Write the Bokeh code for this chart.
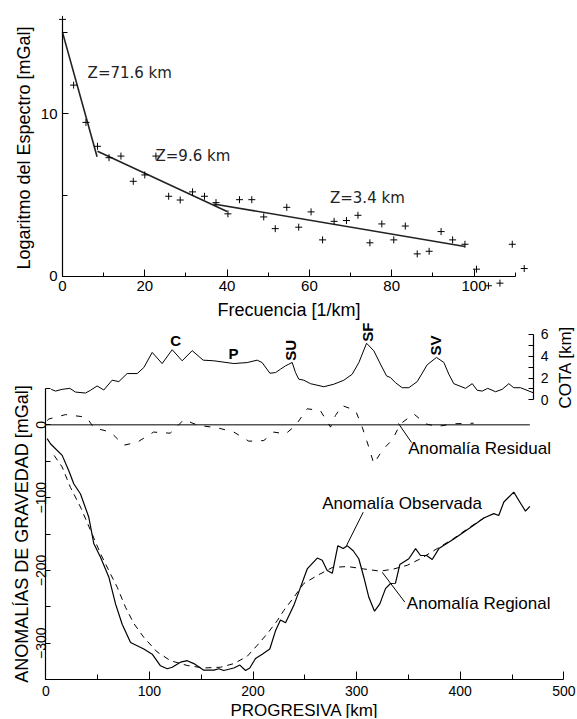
import math
from bokeh.plotting import figure
from bokeh.models import LinearAxis, Range1d, FixedTicker
from bokeh.layouts import column
from bokeh.core.properties import value
from bokeh.embed import file_html
from bokeh.resources import INLINE

# ---------------- Top chart data (spectrum) ----------------
freq = [0, 2.7, 5.7, 8.5, 11.3, 14.2, 17.2, 20.0, 22.7, 25.8, 28.6, 31.6, 34.5, 37.3,
        40.2, 43.0, 46.0, 48.9, 51.7, 54.5, 57.4, 60.4, 63.2, 66.0, 69.0, 71.8, 74.7,
        77.6, 80.5, 83.3, 86.2, 89.1, 92.0, 94.8, 97.8, 100.6, 103.5, 106.3, 109.3, 112.2]
log_spec = [15.8, 11.76, 9.47, 8.0, 7.3, 7.4, 5.85, 6.24, 7.4, 4.93, 4.7, 5.2, 4.93, 4.54,
            3.85, 4.72, 4.72, 3.66, 2.94, 4.25, 3.03, 3.97, 2.25, 3.39, 3.44, 3.76, 2.07,
            3.23, 2.25, 3.1, 1.39, 1.55, 2.76, 2.25, 1.98, 0.45, -0.57, -0.41, 1.98, 0.49]
fit_x0 = [0.0, 8.5, 36.7]
fit_y0 = [15.0, 7.7, 4.46]
fit_x1 = [8.4, 40.0, 97.8]
fit_y1 = [7.36, 4.0, 1.84]
z_labels = ["Z=71.6 km", "Z=9.6 km", "Z=3.4 km"]
z_x = [6.1, 22.6, 65.0]
z_y = [12.5, 7.42, 4.82]
top_xticks = [0, 20, 40, 60, 80, 100]
top_xminor = [10, 30, 50, 70, 90, 110]
top_yticks = [0, 10]
top_yminor = [5, 15]

# ---------------- Bottom chart data (gravity profile) ----------------
topo_x = [5.2, 9.4, 15.8, 23.2, 28.6, 38.3, 43.1, 49.5, 56.0, 64.0, 70.5, 78.5, 88.2, 94.6,
          102.7, 112.3, 122.0, 131.6, 141.3, 151.9, 162.2, 181.5, 194.4, 204.0, 208.8, 216.3,
          221.8, 226.5, 231.4, 234.6, 237.8, 241.0, 244.2, 249.0, 255.5, 268.3, 278.0, 287.7,
          295.8, 302.2, 309.6, 316.6, 323.0, 328.9, 332.7, 337.5, 344.0, 350.4, 358.5, 368.1,
          377.1, 384.2, 389.0, 393.8, 405.1, 411.6, 416.4, 421.2, 426.6, 434.1, 440.5, 446.9,
          451.7, 458.2, 470.4]
topo_h = [0.96, 0.80, 0.96, 1.05, 0.71, 0.62, 0.87, 1.27, 0.90, 1.80, 1.67, 2.41, 2.41, 2.96,
          4.35, 3.33, 4.60, 3.58, 4.51, 3.64, 3.58, 3.33, 3.42, 3.64, 3.42, 2.44,
          2.50, 2.81, 3.12, 3.27, 3.43, 2.50, 1.89, 1.80, 1.48, 1.20, 1.43, 1.80,
          2.35, 3.43, 5.19, 4.50, 3.28, 2.19, 2.04, 1.57, 1.11, 1.11, 1.67, 3.21,
          3.89, 3.43, 2.35, 1.48, 1.05, 1.48, 0.87, 0.80, 1.05, 0.74, 0.96, 1.48,
          1.11, 1.11, 0.65]

obs_x = [1.3, 4.5, 15.8, 22.2, 27, 33.5, 41.5, 46.3, 52.8, 60.8, 67.3, 73.7, 81.8, 94.6,
         102.7, 110.7, 117.2, 122, 130, 136.5, 142.9, 152.5, 162.2, 167, 171.8, 181.5, 187.3,
         192.8, 196.9, 202.4, 208.9, 216.2, 221.7, 226.5, 231.4, 239.4, 245.9, 252.3, 262,
         266.8, 271.6, 276.5, 281.9, 287.1, 290.9, 296.7, 302.1, 306.9, 311.8, 317.3, 322.4,
         327.9, 332.7, 337.5, 341.7, 350.4, 356.9, 361.7, 367.5, 373, 379.4, 393.8, 409.9,
         422.8, 432.4, 437.2, 442.1, 451.7, 457.5, 463, 467.2]
obs_g = [-19, -26, -42, -63, -81, -95, -127, -163, -182, -209, -246, -274, -299, -308,
         -315, -331, -335, -333, -326, -324, -328, -337, -337, -335, -337.5, -334, -330,
         -337.5, -334, -321, -315, -308, -283, -268, -272, -248, -223, -198, -183,
         -186, -200, -204, -166, -170, -166, -173, -184, -209, -237, -256, -246,
         -225, -218, -217.6, -192, -184, -170, -179.5, -179.5, -185, -170, -157, -141,
         -128, -122, -124.6, -106, -92.5, -106, -118.6, -112]

reg_x = [8, 15.8, 23.8, 33.5, 43.2, 52.8, 62.5, 68.9, 76.9, 85, 94.6, 107.5, 120.4, 136.5,
         152.5, 168.6, 181.5, 194.4, 204, 213.7, 223.4, 229.7, 239.4, 249, 262, 276.5, 290.9,
         306.9, 323, 335.9, 348.8, 361.7, 377.8, 393.8, 409.9, 425]
reg_g = [-42, -58, -86, -113, -145, -177, -205, -223, -250.5, -273, -292, -312, -324, -330.6,
         -334, -333, -328, -318, -303, -287, -269, -255, -237, -218, -207, -196, -194.6,
         -198, -201, -198, -193, -184, -170, -156, -140, -126]

res_x = [1.3, 3, 19, 39.3, 46.3, 62.5, 75.3, 88.2, 104, 120, 123, 133, 147.7, 165.4, 181.5,
         196, 210.4, 220, 231.4, 241, 252.3, 265, 274.8, 279.6, 286, 299, 305.4, 311.8, 316.6,
         324.7, 334.4, 342.4, 355.2, 366.5, 377.8, 393.8, 413]
res_g = [5.9, 8, 14, 10.5, -4, -10, -28, -24, -10, -11.5, -8, 7, -1, -4, -10,
         -22.5, -21.6, -10, -12.5, -1, 22, 19.6, -3.2, 12.8, 26.5, 19.6, -3.2, -30.7, -53.6,
         -35, -20.6, 1.4, 15, 1.4, -2.3, 1.4, 2.2]

peak_names = ["C", "P"]
peak_x = [125.4, 181.2]
peak_h = [5.43, 4.25]
vpeak_names = ["SU", "SF", "SV"]
vpeak_x = [236.2, 310.2, 376.2]
vpeak_h = [4.55, 6.21, 4.99]

anom_labels = ["Anomalía Residual", "Anomalía Observada", "Anomalía Regional"]
anom_x = [349.8, 266.8, 348.5]
anom_y = [-32.6, -108.1, -245.5]
lead_x0 = [340.4, 306.4, 324.7]
lead_y0 = [1.8, -120.0, -202.5]
lead_x1 = [353.0, 290.3, 346.5]
lead_y1 = [-24.3, -165.8, -243.5]

cota_title = ["COTA [km]"]
cota_title_x = [501.6]
cota_title_y = [3.0]

bot_xticks = [0, 100, 200, 300, 400, 500]
bot_xminor = [50, 150, 250, 350, 450]
bot_yticks = [-300, -200, -100, 0]
bot_yminor = [-350, -250, -150, -50, 50]
cota_ticks = [0, 2, 4, 6]
cota_minor = [1, 3, 5]

FONT = "Liberation Sans"
W = 577


def style_axis(ax, tick_size, label_size, tick_in, minor_in):
    ax.axis_line_color = "black"
    ax.axis_line_width = 1.2
    ax.major_tick_line_color = "black"
    ax.minor_tick_line_color = "black"
    ax.major_tick_in = tick_in
    ax.major_tick_out = 0
    ax.minor_tick_in = minor_in
    ax.minor_tick_out = 0
    ax.major_label_text_font = FONT
    ax.major_label_text_font_size = tick_size
    ax.major_label_text_color = "black"
    ax.axis_label_text_font = FONT
    ax.axis_label_text_font_size = label_size
    ax.axis_label_text_font_style = "normal"
    ax.axis_label_text_color = "black"


def bare_figure(h, xr, yr):
    p = figure(width=W, height=h, output_backend="svg", toolbar_location=None,
               x_range=xr, y_range=yr, x_axis_location=None, y_axis_location=None,
               min_border_left=0, min_border_right=0, min_border_top=0,
               min_border_bottom=0)
    p.grid.visible = False
    p.outline_line_color = None
    return p


# ---------------- Top figure ----------------
top = bare_figure(320, Range1d(-15.07, 125.15), Range1d(-2.704, 16.96))

tx = LinearAxis(fixed_location=0, bounds=(0, 110),
                ticker=FixedTicker(ticks=top_xticks, minor_ticks=top_xminor),
                axis_label="Frecuencia [1/km]")
style_axis(tx, "15px", "18px", 7, 4)
tx.major_label_standoff = 5
tx.axis_label_standoff = 5
top.add_layout(tx, "below")

ty = LinearAxis(fixed_location=0, bounds=(0, 15.8),
                ticker=FixedTicker(ticks=top_yticks, minor_ticks=top_yminor),
                axis_label="Logaritmo del Espectro [mGal]")
style_axis(ty, "15px", "18px", 6, 5)
ty.major_label_standoff = 5
ty.axis_label_standoff = 4
top.add_layout(ty, "left")

top.segment(x0=fit_x0, y0=fit_y0, x1=fit_x1, y1=fit_y1, line_color="#222222", line_width=1.6)
top.scatter(freq, log_spec, marker="cross", size=7, line_color="black", line_width=1)
top.text(x=z_x, y=z_y, text=z_labels, text_font=value("DejaVu Sans"),
         text_font_size=value("15px"), text_baseline="middle", text_align="left",
         text_color="#222222")

# ---------------- Bottom figure ----------------
bot = bare_figure(398, Range1d(-43.73, 513.2), Range1d(-403.4, 143.27))
bot.extra_y_ranges = {"cota": Range1d(-29.27, 7.282)}

bx = LinearAxis(fixed_location=-350, bounds=(0, 500),
                ticker=FixedTicker(ticks=bot_xticks, minor_ticks=bot_xminor),
                axis_label="PROGRESIVA [km]")
style_axis(bx, "14px", "17px", 8, 5)
bx.major_label_standoff = 6
bx.axis_label_standoff = 2
bot.add_layout(bx, "below")

by = LinearAxis(fixed_location=0, bounds=(-350, 50),
                ticker=FixedTicker(ticks=bot_yticks, minor_ticks=bot_yminor),
                axis_label="ANOMALÍAS DE GRAVEDAD [mGal]")
style_axis(by, "14px", "18px", 5, 5)
by.major_label_orientation = "vertical"
by.major_label_standoff = 0
by.axis_label_standoff = 1
bot.add_layout(by, "left")

cy = LinearAxis(y_range_name="cota", fixed_location=471, bounds=(0, 6),
                ticker=FixedTicker(ticks=cota_ticks, minor_ticks=cota_minor))
style_axis(cy, "14px", "17px", 5, 5)
cy.major_label_standoff = 7
bot.add_layout(cy, "right")

# zero reference line
bot.line(x=[0, obs_x[-1]], y=[0, 0], line_color="#555555", line_width=1.5)
# topography
bot.line(topo_x, topo_h, y_range_name="cota", line_color="black", line_width=1)
# anomalies
bot.line(res_x, res_g, line_color="black", line_width=1, line_dash="6 9")
bot.line(reg_x, reg_g, line_color="black", line_width=1, line_dash="6 5")
bot.line(obs_x, obs_g, line_color="black", line_width=1.2)

bot.text(x=peak_x, y=peak_h, text=peak_names, y_range_name="cota",
         text_font=value(FONT), text_font_size=value("15px"), text_font_style="bold",
         text_align="center", text_baseline="middle", text_color="black")
bot.text(x=vpeak_x, y=vpeak_h, text=vpeak_names, y_range_name="cota", angle=math.pi / 2,
         text_font=value(FONT), text_font_size=value("15px"), text_font_style="bold",
         text_align="center", text_baseline="middle", text_color="black")
# title of the COTA (elevation) axis, reading bottom-to-top
bot.text(x=cota_title_x, y=cota_title_y, text=cota_title, y_range_name="cota",
         angle=math.pi / 2, text_font=value(FONT), text_font_size=value("17px"),
         text_align="center", text_baseline="middle", text_color="black")

bot.segment(x0=lead_x0, y0=lead_y0, x1=lead_x1, y1=lead_y1, line_color="black", line_width=1)
bot.text(x=anom_x, y=anom_y, text=anom_labels, text_font=value(FONT),
         text_font_size=value("17px"), text_align="left", text_baseline="middle",
         text_color="black")

layout = column(top, bot, spacing=0)
open("out.html", "w").write(file_html(layout, INLINE))
